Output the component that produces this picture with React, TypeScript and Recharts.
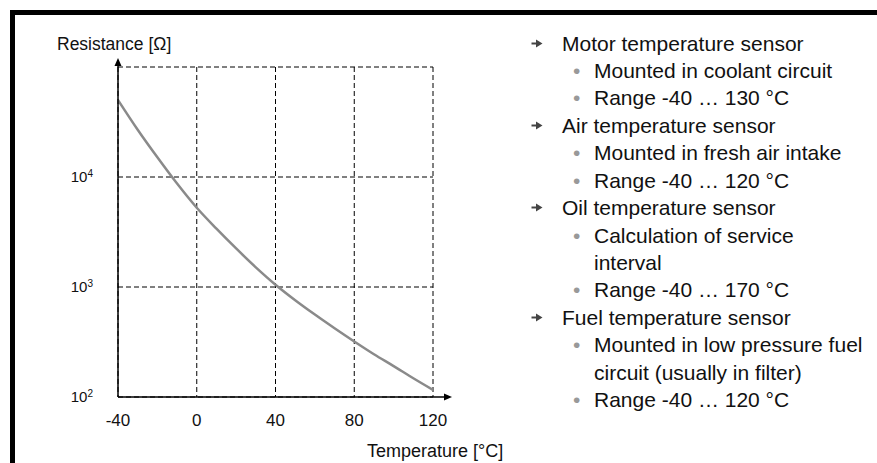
import { LineChart, Line, XAxis, YAxis, CartesianGrid, ReferenceLine } from "recharts"

// temperature in °C, resistance in Ω
const temps = [-40, -30, -20, -10, 0, 10, 20, 30, 40, 50, 60, 70, 80, 90, 100, 110, 120]
const resistance = [50100, 26900, 15100, 8710, 5250, 3390, 2240, 1510, 1050, 759, 562, 422, 320, 245, 191, 148, 116]

const xTicks = [-40, 0, 40, 80, 120]
const yTicks = [100, 1000, 10000, 100000]

// 1 = arrow item, 2 = bullet item, 3 = continuation of a bullet
const noteLevels = [1, 2, 2, 1, 2, 2, 1, 2, 3, 2, 1, 2, 3, 2]
const noteTexts = [
  "Motor temperature sensor",
  "Mounted in coolant circuit",
  "Range -40 … 130 °C",
  "Air temperature sensor",
  "Mounted in fresh air intake",
  "Range -40 … 120 °C",
  "Oil temperature sensor",
  "Calculation of service",
  "interval",
  "Range -40 … 170 °C",
  "Fuel temperature sensor",
  "Mounted in low pressure fuel",
  "circuit (usually in filter)",
  "Range -40 … 120 °C",
]

const data = temps.map((t, i) => ({ t, r: resistance[i] }))

const YTick = (props: any) => {
  const { x, y, payload } = props
  if (payload.value >= 100000) return <g />
  const exp = Math.round(Math.log10(payload.value))
  return (
    <text x={x - 17} y={y} dy="0.35em" textAnchor="end" fontSize={15} fill="#111">
      10<tspan dy="-0.55em" fontSize={10}>{exp}</tspan>
    </text>
  )
}

const UpArrowAxis = (p: any) => {
  const top = Math.min(p.y1, p.y2) - 9
  const bottom = Math.max(p.y1, p.y2)
  return (
    <g>
      <line x1={p.x1} y1={bottom} x2={p.x1} y2={top + 4} stroke="#000" strokeWidth={1.5} />
      <polygon points={`${p.x1},${top} ${p.x1 - 3.5},${top + 8} ${p.x1 + 3.5},${top + 8}`} fill="#000" />
    </g>
  )
}

const RightArrowAxis = (p: any) => {
  const left = Math.min(p.x1, p.x2)
  const tip = Math.max(p.x1, p.x2) + 19
  return (
    <g>
      <line x1={left} y1={p.y1} x2={tip - 4} y2={p.y1} stroke="#000" strokeWidth={1.5} />
      <polygon points={`${tip},${p.y1} ${tip - 8},${p.y1 - 3.5} ${tip - 8},${p.y1 + 3.5}`} fill="#000" />
    </g>
  )
}

// arrow bullet used in front of the first-level items
const ArrowBullet = () => (
  <svg width={12} height={9} style={{ position: "absolute", left: 531, top: 9 }}>
    <line x1={0.5} y1={4.5} x2={8} y2={4.5} stroke="#444" strokeWidth={2} />
    <polygon points="5,0.5 11.5,4.5 5,8.5" fill="#444" />
  </svg>
)

export default function App() {
  return (
    <div
      style={{
        position: "absolute",
        left: 0,
        top: 0,
        width: 877,
        height: 463,
        background: "#fff",
        overflow: "hidden",
        fontFamily: "'Liberation Sans', Arial, sans-serif",
        color: "#111",
      }}
    >
      <div style={{ position: "absolute", left: 10, top: 10, width: 867, height: 4.5, background: "#000" }} />
      <div style={{ position: "absolute", left: 10, top: 10, width: 5, height: 453, background: "#000" }} />

      <div style={{ position: "absolute", left: 0, top: 0 }}>
        <LineChart width={480} height={463} data={data} margin={{ top: 67, right: 47, bottom: 36, left: 0 }}>
          <CartesianGrid stroke="#000" strokeDasharray="5 3" strokeWidth={1} />
          <XAxis
            dataKey="t"
            type="number"
            domain={[-40, 120]}
            ticks={xTicks}
            axisLine={false}
            tickLine={false}
            tickMargin={11}
            tick={{ fontSize: 17, fill: "#111" }}
            height={30}
          />
          <YAxis
            dataKey="r"
            scale="log"
            domain={[100, 100000]}
            ticks={yTicks}
            axisLine={false}
            tickLine={false}
            width={118}
            tick={<YTick />}
          />
          <Line
            dataKey="r"
            type="monotone"
            stroke="#8a8a8a"
            strokeWidth={2.5}
            dot={false}
            isAnimationActive={false}
          />
          <ReferenceLine x={-40} shape={<UpArrowAxis />} />
          <ReferenceLine y={100} shape={<RightArrowAxis />} />
        </LineChart>
      </div>

      <div style={{ position: "absolute", left: 57, top: 35, fontSize: 17.5, lineHeight: "18px", whiteSpace: "nowrap" }}>
        Resistance [Ω]
      </div>
      <div style={{ position: "absolute", left: 367, top: 442, fontSize: 18, lineHeight: "18px", whiteSpace: "nowrap" }}>
        Temperature [°C]
      </div>

      <div style={{ position: "absolute", left: 0, top: 29.5, width: 877 }}>
        {noteTexts.map((txt, i) => {
          const lvl = noteLevels[i]
          return (
            <div key={i} style={{ position: "relative", height: 27.44, fontSize: 21, lineHeight: "27.44px", whiteSpace: "nowrap" }}>
              {lvl === 1 && <ArrowBullet />}
              {lvl === 2 && (
                <span style={{ position: "absolute", left: 573, top: 0, color: "#999" }}>•</span>
              )}
              <span style={{ position: "absolute", left: lvl === 1 ? 562 : 594, top: 0 }}>{txt}</span>
            </div>
          )
        })}
      </div>
    </div>
  )
}
